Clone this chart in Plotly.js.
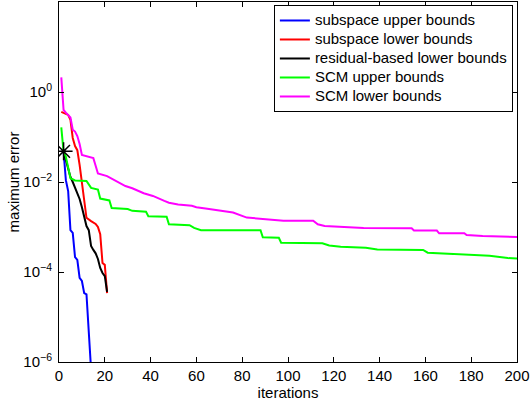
<!DOCTYPE html>
<html>
<head>
<meta charset="utf-8">
<script src="https://cdn.plot.ly/plotly-3.0.1.min.js"></script>
<style>html,body{margin:0;padding:0;background:#fff}#chart{width:530px;height:403px}</style>
</head>
<body>
<div id="chart"></div>
<script>
// ---- data ----
const seriesNames = ["subspace upper bounds", "subspace lower bounds", "residual-based lower bounds", "SCM upper bounds", "SCM lower bounds"];

const subUpperIter = [2, 3, 4, 5, 6, 7, 8, 9, 10, 11, 12, 13, 14];
const subUpperVal  = [0.047, 0.011, 0.0063, 8.5e-4, 7.4e-4, 2.15e-4, 1.86e-4, 7.4e-5, 6.3e-5, 3.4e-5, 3.2e-5, 5.1e-6, 6.9e-7];

const subLowerIter = [1, 4, 5, 6, 7, 8, 9, 10, 11, 12, 14, 16, 17, 18, 19, 20, 21];
const subLowerVal  = [0.363, 0.309, 0.24, 0.095, 0.063, 0.051, 0.024, 0.0095, 0.0034, 0.0016, 0.00135, 0.00117, 0.0010, 0.00069, 1.58e-4, 1.44e-4, 3.4e-5];

const resLowerIter = [2, 3, 4, 5, 6, 7, 8, 9, 10, 11, 12, 13, 14, 15, 16, 17, 18, 19, 20, 21];
const resLowerVal  = [0.047, 0.031, 0.0186, 0.0129, 0.010, 0.0074, 0.0057, 0.0042, 0.00276, 0.00158, 0.00105, 0.00085, 0.00038, 0.00031, 0.00026, 0.000195, 0.000123, 0.000095, 0.000081, 3.6e-5];

const scmUpperIter = [1, 2, 3, 4, 5, 7, 12, 14, 17, 18, 22, 23, 30, 32, 38, 39, 47, 48, 57, 59, 62, 88, 89, 96, 97, 115, 118, 123, 134, 139, 159, 161, 174, 188, 196, 200];
const scmUpperVal  = [0.164, 0.047, 0.0364, 0.020, 0.0121, 0.0108, 0.0105, 0.0074, 0.0068, 0.00429, 0.00389, 0.00263, 0.00251, 0.00229, 0.00219, 0.00174, 0.00170, 0.00115, 0.00110, 0.000955, 0.000851, 0.000851, 0.000589, 0.000575, 0.000447, 0.000437, 0.000389, 0.000363, 0.000347, 0.000316, 0.000309, 0.000269, 0.000251, 0.000229, 0.000204, 0.000200];

const scmLowerIter = [1, 2, 3, 5, 6, 7, 8, 9, 10, 13, 15, 16, 17, 21, 24, 27, 29, 32, 37, 41, 43, 46, 48, 52, 58, 60, 64, 68, 73, 76, 82, 88, 98, 111, 113, 116, 133, 154, 155, 165, 166, 177, 178, 185, 194, 200];
const scmLowerVal  = [2.12, 0.398, 0.347, 0.27, 0.145, 0.132, 0.105, 0.07, 0.0398, 0.0355, 0.0339, 0.023, 0.0155, 0.0135, 0.011, 0.00933, 0.00813, 0.00724, 0.00562, 0.0049, 0.00437, 0.0038, 0.00347, 0.00316, 0.00295, 0.00275, 0.00257, 0.0024, 0.00219, 0.00209, 0.00162, 0.00151, 0.00138, 0.00138, 0.00115, 0.00105, 0.000955, 0.000933, 0.000832, 0.000832, 0.000724, 0.000724, 0.000661, 0.000631, 0.000603, 0.000603];

const startIter = [2];
const startVal  = [0.048];

const xTickVals = [0, 20, 40, 60, 80, 100, 120, 140, 160, 180, 200];
const yTickVals = [1e-6, 1e-4, 1e-2, 1];
const yTickText = ["10<sup>\u22126</sup>", "10<sup>\u22124</sup>", "10<sup>\u22122</sup>", "10<sup>0</sup>"];

// ---- chart ----
const FONT = "Liberation Sans, Arial, Helvetica, sans-serif";
const colors = ["#0000ff", "#ff0000", "#000000", "#00ff00", "#ff00ff"];
const xs = [subUpperIter, subLowerIter, resLowerIter, scmUpperIter, scmLowerIter];
const ys = [subUpperVal, subLowerVal, resLowerVal, scmUpperVal, scmLowerVal];

const traces = seriesNames.map((n, i) => ({
  type: "scatter", mode: "lines",
  name: '<span style="font-size:15px">' + n + '</span>',
  x: xs[i], y: ys[i],
  line: {color: colors[i], width: 2}
}));
traces.push({
  type: "scatter", mode: "markers", x: startIter, y: startVal, showlegend: false,
  marker: {symbol: "asterisk-open", size: 15, color: "#000", line: {color: "#000", width: 1.5}}
});

const axisCommon = {
  showline: true, linecolor: "#000", linewidth: 1, mirror: "ticks",
  ticks: "inside", ticklen: 5, tickwidth: 1, tickcolor: "#000",
  showgrid: false, zeroline: false,
  tickfont: {family: FONT, size: 15, color: "#000"}
};

const layout = {
  width: 530, height: 403,
  margin: {l: 59, r: 13, t: 2, b: 41},
  paper_bgcolor: "#fff", plot_bgcolor: "#fff",
  font: {family: FONT, size: 15, color: "#000"},
  showlegend: true,
  legend: {
    x: 0.991, y: 0.9917, xanchor: "right", yanchor: "top",
    bgcolor: "#fff", bordercolor: "#000", borderwidth: 1,
    font: {family: FONT, size: 11.6, color: "#000"},
    tracegroupgap: 0, itemwidth: 30
  },
  xaxis: Object.assign({}, axisCommon, {
    range: [0, 200], tickmode: "array", tickvals: xTickVals,
    title: {text: "iterations", font: {family: FONT, size: 15}, standoff: 2}
  }),
  yaxis: Object.assign({}, axisCommon, {
    type: "log", range: [-6, 2], tickmode: "array", tickvals: yTickVals, ticktext: yTickText,
    ticklabelstandoff: 3,
    title: {text: "maximum error", font: {family: FONT, size: 15}, standoff: 0}
  })
};

Plotly.newPlot("chart", traces, layout, {staticPlot: true, displayModeBar: false});
</script>
</body>
</html>
